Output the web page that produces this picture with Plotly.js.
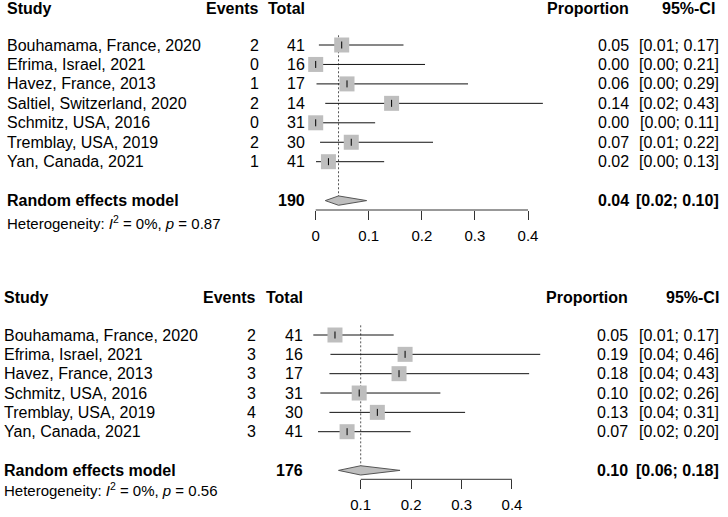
<!DOCTYPE html>
<html>
<head>
<meta charset="utf-8">
<script src="https://cdn.plot.ly/plotly-3.0.1.min.js"></script>
<style>html,body{margin:0;padding:0;background:#fff;}#chart{width:728px;height:517px;}</style>
</head>
<body>
<div id="chart"></div>
<script>
// ---------- Panel 1 data ----------
const studies1 = ["Bouhamama, France, 2020","Efrima, Israel, 2021","Havez, France, 2013","Saltiel, Switzerland, 2020","Schmitz, USA, 2016","Tremblay, USA, 2019","Yan, Canada, 2021"];
const events1 = [2, 0, 1, 2, 0, 2, 1];
const totals1 = [41, 16, 17, 14, 31, 30, 41];
const prop1 = [0.049, 0.000, 0.059, 0.143, 0.000, 0.067, 0.024];
const lo1 = [0.0060, 0.0000, 0.0015, 0.0180, 0.0000, 0.0082, 0.0006];
const hi1 = [0.1654, 0.2060, 0.2870, 0.4280, 0.1120, 0.2210, 0.1290];
const pooledEst1 = 0.043, pooledLo1 = 0.018, pooledHi1 = 0.096;
const pooledN1 = 190;
const hetI2_1 = "0%", hetP1 = "0.87";
const ticks1 = [0, 0.1, 0.2, 0.3, 0.4];
const tickText1 = ["0", "0.1", "0.2", "0.3", "0.4"];

// ---------- Panel 2 data ----------
const studies2 = ["Bouhamama, France, 2020","Efrima, Israel, 2021","Havez, France, 2013","Schmitz, USA, 2016","Tremblay, USA, 2019","Yan, Canada, 2021"];
const events2 = [2, 3, 3, 3, 4, 3];
const totals2 = [41, 16, 17, 31, 30, 41];
const prop2 = [0.049, 0.188, 0.176, 0.097, 0.133, 0.073];
const lo2 = [0.0060, 0.0400, 0.0380, 0.0200, 0.0380, 0.0154];
const hi2 = [0.1654, 0.4560, 0.4340, 0.2580, 0.3070, 0.1990];
const pooledEst2 = 0.100, pooledLo2 = 0.056, pooledHi2 = 0.178;
const pooledN2 = 176;
const hetI2_2 = "0%", hetP2 = "0.56";
const ticks2 = [0.1, 0.2, 0.3, 0.4];
const tickText2 = ["0.1", "0.2", "0.3", "0.4"];

// ---------- helpers ----------
const W = 728, H = 517;
const FONT = "Liberation Sans, Arial, Helvetica, sans-serif";
const px = v => v / W;
const f2 = v => v.toFixed(2);

function panel(opt) {
  const n = opt.studies.length;
  const rows = opt.studies.map((_, i) => i + 1);
  const dRow = n + 2;
  const xa = opt.xa, ya = opt.ya;
  const traces = [];
  traces.push({
    type: "scatter", mode: "markers", x: opt.prop, y: rows, xaxis: xa, yaxis: ya,
    marker: {symbol: "square", size: 15, color: "#BEBEBE", line: {width: 0}},
    error_x: {type: "data", symmetric: false,
      array: opt.prop.map((p, i) => opt.hi[i] - p),
      arrayminus: opt.prop.map((p, i) => p - opt.lo[i]),
      thickness: 1, width: 0, color: "#111"},
    hoverinfo: "skip", cliponaxis: false
  });
  traces.push({
    type: "scatter", mode: "markers", x: opt.prop, y: rows, xaxis: xa, yaxis: ya,
    marker: {symbol: "line-ns-open", size: 5, color: "#000", line: {width: 1, color: "#000"}},
    hoverinfo: "skip", cliponaxis: false
  });
  const h = 0.24;
  traces.push({
    type: "scatter", mode: "lines", xaxis: xa, yaxis: ya,
    x: [opt.pLo, opt.pEst, opt.pHi, opt.pEst, opt.pLo],
    y: [dRow, dRow - h, dRow, dRow + h, dRow],
    fill: "toself", fillcolor: "#BEBEBE", line: {color: "#555", width: 1},
    hoverinfo: "skip", cliponaxis: false
  });

  const xref = xa === "x" ? "x" : "x2";
  const yref = ya === "y" ? "y" : "y2";
  const shapes = [
    {type: "line", xref: xref, yref: yref, x0: opt.pEst, x1: opt.pEst, y0: 0.5, y1: dRow,
     line: {color: "#555", width: 1, dash: "2px,2px"}, layer: "below"},
    {type: "line", xref: xref, yref: yref + " domain", x0: opt.ticks[0], x1: opt.ticks[opt.ticks.length - 1], y0: 0, y1: 0,
     line: {color: "#333", width: 1}}
  ];

  const ann = [];
  const base = {showarrow: false, font: {family: FONT, size: 16, color: "#000"}, yanchor: "middle"};
  const T = (text, x, y, anchor, bold, extra) => ann.push(Object.assign({}, base, {
    text: bold ? "<b>" + text + "</b>" : text, x: px(x), xref: "paper", y: y, yref: yref, xanchor: anchor
  }, extra || {}));
  const c = opt.cols;
  // header
  T("Study", c.study, opt.headRow, "left", true);
  T("Events", c.events, opt.headRow, "right", true);
  T("Total", c.total, opt.headRow, "right", true);
  T("Proportion", c.prop, opt.headRow, "right", true);
  T("95%-CI", c.ciHead, opt.headRow, "right", true);
  opt.studies.forEach((s, i) => {
    const r = rows[i];
    T(s, c.study, r, "left", false);
    T(String(opt.events[i]), c.events, r, "right", false);
    T(String(opt.totals[i]), c.total, r, "right", false);
    T(f2(opt.prop[i]), c.prop, r, "right", false);
    T("[" + f2(opt.lo[i]) + "; " + f2(opt.hi[i]) + "]", c.ci, r, "right", false);
  });
  T("Random effects model", c.study, dRow, "left", true);
  T(String(opt.N), c.total, dRow, "right", true);
  T(f2(opt.pEst), c.prop, dRow, "right", true);
  T("[" + f2(opt.pLo) + "; " + f2(opt.pHi) + "]", c.ci, dRow, "right", true);
  ann.push(Object.assign({}, base, {
    text: "Heterogeneity: <i>I</i><sup>2</sup> = " + opt.i2 + ", <i>p</i> = " + opt.p,
    x: px(c.study), xref: "paper", xanchor: "left", y: opt.hetY, yref: "paper",
    font: {family: FONT, size: 15, color: "#000"}
  }));
  return {traces, shapes, ann};
}

const p1 = panel({
  studies: studies1, events: events1, totals: totals1, prop: prop1, lo: lo1, hi: hi1,
  pEst: pooledEst1, pLo: pooledLo1, pHi: pooledHi1, N: pooledN1, i2: hetI2_1, p: hetP1,
  ticks: ticks1, xa: "x", ya: "y", headRow: -0.88, hetY: 1 - 222 / H,
  cols: {study: 4.5, events: 261, total: 307, prop: 631, ciHead: 717, ci: 721}
});
const p2 = panel({
  studies: studies2, events: events2, totals: totals2, prop: prop2, lo: lo2, hi: hi2,
  pEst: pooledEst2, pLo: pooledLo2, pHi: pooledHi2, N: pooledN2, i2: hetI2_2, p: hetP2,
  ticks: ticks2, xa: "x2", ya: "y2", headRow: -0.96, hetY: 1 - 490 / H,
  cols: {study: 2, events: 258, total: 305, prop: 630, ciHead: 721, ci: 721}
});

// axis geometry (pixel mapping)
const x1zero = 315.7, x1ppu = 530.75;
const x2zero = 310.27, x2ppu = 504.3;
const axisCommon = {showgrid: false, zeroline: false, showline: false, ticks: "outside",
  ticklen: 9, tickwidth: 1, tickcolor: "#333", ticklabelstandoff: 3,
  tickfont: {family: FONT, size: 15, color: "#000"}, fixedrange: true};
const yCommon = {showgrid: false, zeroline: false, showline: false, showticklabels: false, ticks: "", fixedrange: true};

const layout = {
  width: W, height: H, margin: {l: 0, r: 0, t: 0, b: 0},
  paper_bgcolor: "#fff", plot_bgcolor: "rgba(0,0,0,0)", showlegend: false,
  font: {family: FONT},
  xaxis: Object.assign({}, axisCommon, {domain: [0, 1], anchor: "y",
    range: [-x1zero / x1ppu, (W - x1zero) / x1ppu], tickvals: ticks1, ticktext: tickText1}),
  yaxis: Object.assign({}, yCommon, {domain: [1 - 210 / H, 1], anchor: "x",
    range: [1 - 45 / 19.45 + 210 / 19.45, 1 - 45 / 19.45]}),
  xaxis2: Object.assign({}, axisCommon, {domain: [0, 1], anchor: "y2",
    range: [-x2zero / x2ppu, (W - x2zero) / x2ppu], tickvals: ticks2, ticktext: tickText2}),
  yaxis2: Object.assign({}, yCommon, {domain: [1 - 479.3 / H, 0.5], anchor: "x2",
    range: [1 + (258.5 - 335) / 19.34 + (479.3 - 258.5) / 19.34, 1 + (258.5 - 335) / 19.34]}),
  shapes: p1.shapes.concat(p2.shapes),
  annotations: p1.ann.concat(p2.ann)
};

Plotly.newPlot("chart", p1.traces.concat(p2.traces), layout, {displayModeBar: false, staticPlot: true});
</script>
</body>
</html>
